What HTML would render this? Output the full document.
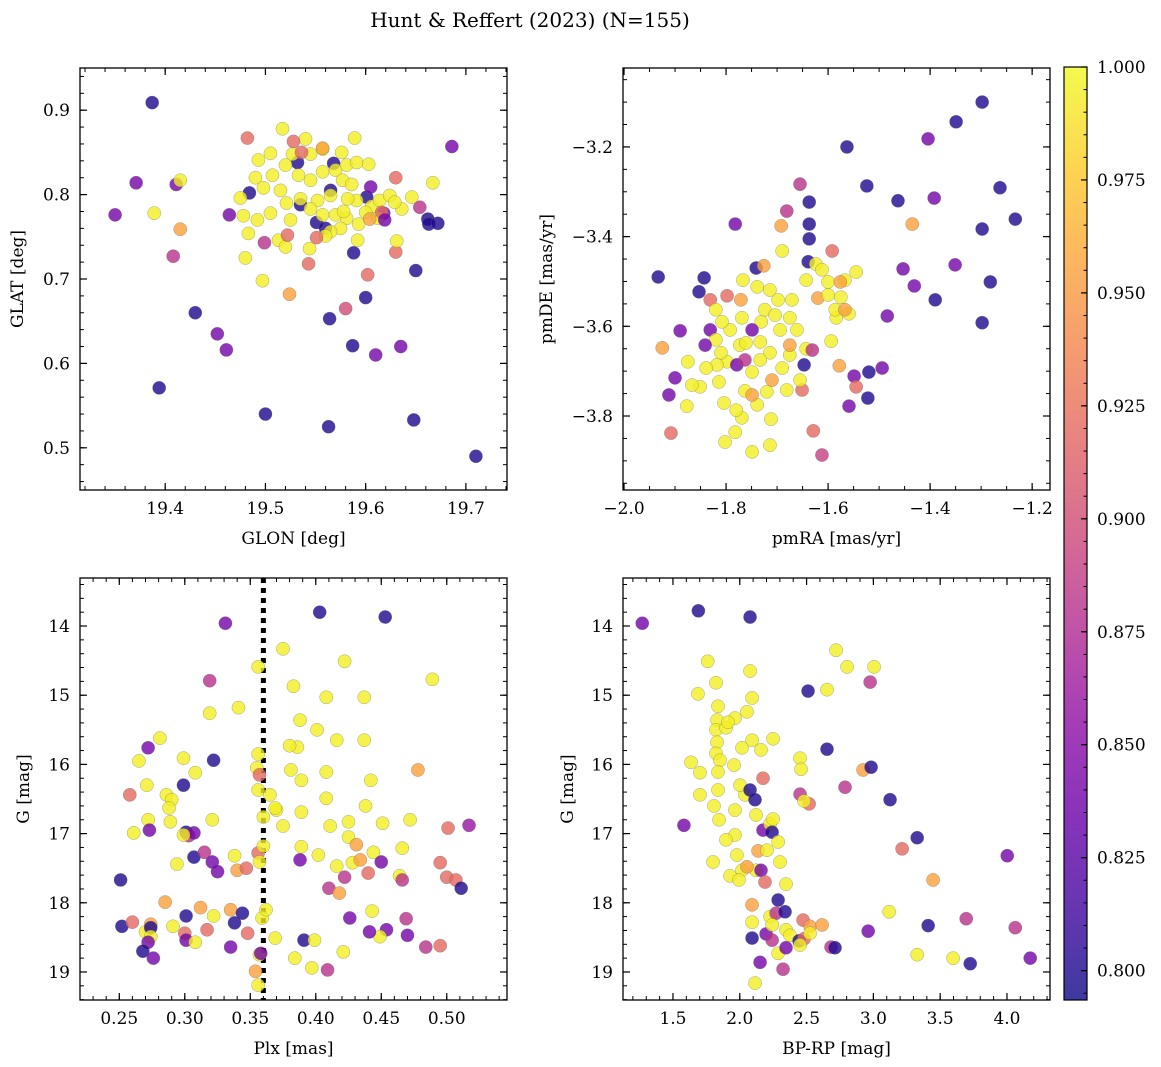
<!DOCTYPE html>
<html><head><meta charset="utf-8"><style>
body{margin:0;background:#fff}
svg{display:block;font-family:"DejaVu Serif","Liberation Serif",serif}
</style></head><body>
<svg id="fig" width="1161" height="1067" viewBox="0 0 1161 1067">
<text x="530" y="27" font-size="20" text-anchor="middle">Hunt &amp; Reffert (2023) (N=155)</text>
</svg>
<script>
// ---- Panel 1: GLON vs GLAT ----
const tlGlon=[19.387,19.371,19.350,19.411,19.415,19.389,19.415,19.408,19.430,19.452,19.461,19.394,19.464,19.482,19.484,19.500,19.497,19.524,19.563,19.564,19.587,19.588,19.580,19.600,19.602,19.610,19.618,19.630,19.631,19.635,19.654,19.630,19.650,19.648,19.710,19.662,19.667,19.686,19.663,19.672,19.601,19.565,19.568,19.532,19.535,19.551,19.560,19.605,
19.517,19.540,19.557,19.576,19.589,19.545,19.505,19.493,19.490,19.498,19.507,19.520,19.533,19.545,19.557,19.570,19.581,19.591,19.603,19.577,19.565,19.552,19.535,19.521,19.505,19.492,19.478,19.483,19.513,19.525,19.545,19.557,19.570,19.581,19.591,19.606,19.614,19.624,19.636,19.612,19.600,19.593,19.575,19.565,19.544,19.520,19.560,19.586,19.582,19.592,19.629,19.646,19.515,19.527,19.578,19.475,19.480,
19.528,19.557,19.536,19.543,19.551,19.522,19.616,19.604,19.499,19.619];
const tlGlat=[0.909,0.814,0.776,0.812,0.817,0.778,0.759,0.727,0.660,0.635,0.616,0.571,0.776,0.867,0.802,0.540,0.698,0.682,0.525,0.653,0.621,0.731,0.665,0.678,0.705,0.610,0.778,0.732,0.745,0.620,0.785,0.820,0.710,0.533,0.490,0.771,0.814,0.857,0.765,0.766,0.797,0.805,0.837,0.838,0.788,0.767,0.760,0.809,
0.878,0.866,0.854,0.850,0.867,0.848,0.849,0.841,0.820,0.808,0.823,0.835,0.823,0.817,0.827,0.829,0.835,0.838,0.836,0.817,0.799,0.793,0.795,0.790,0.778,0.770,0.775,0.754,0.746,0.770,0.783,0.776,0.776,0.772,0.793,0.786,0.793,0.799,0.783,0.772,0.779,0.765,0.760,0.756,0.736,0.738,0.751,0.812,0.795,0.746,0.791,0.797,0.805,0.848,0.780,0.796,0.725,
0.863,0.855,0.850,0.718,0.749,0.752,0.779,0.771,0.743,0.770];
const tlProb=[0.80,0.84,0.84,0.84,0.995,0.995,0.955,0.88,0.80,0.84,0.84,0.80,0.84,0.92,0.80,0.80,0.995,0.955,0.80,0.80,0.80,0.80,0.90,0.80,0.92,0.84,0.84,0.92,0.995,0.84,0.88,0.92,0.80,0.80,0.80,0.80,0.995,0.84,0.80,0.80,0.80,0.80,0.80,0.80,0.80,0.80,0.80,0.84,
0.995,0.995,0.995,0.995,0.995,0.995,0.995,0.995,0.995,0.995,0.995,0.995,0.995,0.995,0.995,0.995,0.995,0.995,0.995,0.995,0.995,0.995,0.995,0.995,0.995,0.995,0.995,0.995,0.995,0.995,0.995,0.995,0.995,0.995,0.995,0.995,0.995,0.995,0.995,0.995,0.995,0.995,0.995,0.995,0.995,0.995,0.995,0.995,0.995,0.995,0.995,0.995,0.995,0.995,0.995,0.995,0.995,
0.92,0.955,0.92,0.92,0.92,0.92,0.92,0.955,0.88,0.84];

// ---- Panel 2: pmRA vs pmDE ----
const trPmra=[-1.298,-1.349,-1.404,-1.563,-1.392,-1.463,-1.524,-1.263,-1.233,-1.298,-1.435,-1.655,-1.681,-1.637,-1.637,-1.637,-1.692,-1.782,-1.639,-1.592,-1.453,-1.431,-1.351,-1.282,-1.390,-1.298,-1.484,-1.933,-1.843,-1.853,-1.890,-1.831,-1.925,-1.900,-1.912,-1.908,-1.877,-1.831,-1.820,-1.798,-1.771,-1.767,-1.741,-1.726,-1.690,-1.739,-1.714,-1.698,-1.671,-1.620,-1.643,-1.624,-1.612,-1.600,-1.545,-1.567,-1.576,-1.575,-1.559,-1.584,-1.594,-1.578,-1.549,-1.520,-1.494,-1.545,-1.559,-1.522,-1.629,-1.612,-1.712,-1.739,-1.763,-1.749,-1.773,-1.798,-1.818,-1.839,-1.851,-1.867,-1.804,-1.769,-1.782,-1.749,-1.802,-1.714,-1.720,-1.681,-1.651,-1.647,-1.655,-1.690,-1.675,-1.643,-1.661,-1.694,-1.731,-1.769,-1.792,-1.820,-1.810,-1.761,-1.733,-1.714,-1.749,-1.724,-1.704,-1.675,-1.733,-1.779,-1.763,-1.710,-1.675,-1.749,-1.631,-1.780,-1.875,-1.814,-1.841,-1.808,-1.586,-1.567,-1.600];
const trPmde=[-3.100,-3.144,-3.182,-3.200,-3.314,-3.320,-3.287,-3.291,-3.361,-3.383,-3.372,-3.283,-3.343,-3.323,-3.372,-3.405,-3.376,-3.372,-3.456,-3.432,-3.472,-3.510,-3.463,-3.501,-3.541,-3.592,-3.577,-3.490,-3.492,-3.523,-3.610,-3.541,-3.648,-3.715,-3.753,-3.838,-3.778,-3.608,-3.563,-3.532,-3.541,-3.497,-3.470,-3.465,-3.432,-3.512,-3.519,-3.541,-3.541,-3.537,-3.497,-3.461,-3.474,-3.501,-3.479,-3.497,-3.501,-3.535,-3.572,-3.581,-3.633,-3.688,-3.711,-3.702,-3.693,-3.735,-3.778,-3.760,-3.833,-3.887,-3.807,-3.775,-3.744,-3.702,-3.642,-3.679,-3.686,-3.693,-3.735,-3.731,-3.771,-3.804,-3.836,-3.880,-3.858,-3.865,-3.746,-3.742,-3.742,-3.686,-3.720,-3.693,-3.664,-3.650,-3.608,-3.608,-3.590,-3.581,-3.608,-3.630,-3.659,-3.637,-3.635,-3.659,-3.608,-3.563,-3.575,-3.581,-3.675,-3.686,-3.675,-3.720,-3.642,-3.753,-3.653,-3.787,-3.679,-3.724,-3.642,-3.590,-3.563,-3.563,-3.530];
const trProb=[0.80,0.80,0.84,0.80,0.84,0.80,0.80,0.80,0.80,0.80,0.955,0.88,0.88,0.80,0.80,0.80,0.955,0.84,0.80,0.92,0.84,0.84,0.84,0.80,0.80,0.80,0.84,0.80,0.80,0.80,0.84,0.92,0.955,0.84,0.84,0.92,0.995,0.84,0.995,0.92,0.955,0.995,0.80,0.955,0.995,0.995,0.995,0.995,0.995,0.955,0.995,0.995,0.995,0.995,0.995,0.995,0.955,0.995,0.995,0.995,0.995,0.955,0.84,0.80,0.84,0.92,0.84,0.80,0.92,0.89,0.995,0.995,0.995,0.995,0.995,0.995,0.995,0.995,0.995,0.995,0.995,0.995,0.995,0.995,0.995,0.995,0.995,0.995,0.92,0.80,0.995,0.995,0.995,0.995,0.995,0.995,0.995,0.995,0.995,0.995,0.995,0.995,0.995,0.995,0.84,0.995,0.995,0.995,0.995,0.84,0.88,0.955,0.955,0.955,0.88,0.995,0.995,0.995,0.84,0.995,0.995,0.955,0.995];

// ---- Panel 3: Plx vs G ----
const blPlx=[0.331,0.403,0.453,0.319,0.319,0.341,0.375,0.356,0.383,0.408,0.422,0.437,0.489,0.388,0.401,0.386,0.381,0.389,0.356,0.355,0.380,0.322,0.299,0.299,0.308,0.281,0.272,0.265,0.258,0.272,0.261,0.273,0.286,0.290,0.271,0.288,0.289,0.301,0.303,0.307,0.299,0.294,0.307,0.315,0.321,0.321,0.325,0.338,0.340,0.347,0.356,0.357,0.360,0.360,0.357,0.356,0.365,0.370,0.375,0.369,0.389,0.389,0.388,0.411,0.408,0.402,0.408,0.416,0.425,0.437,0.438,0.442,0.425,0.416,0.410,0.418,0.428,0.422,0.434,0.444,0.440,0.450,0.426,0.431,0.451,0.466,0.472,0.478,0.501,0.500,0.507,0.517,0.464,0.466,0.495,0.511,0.454,0.469,0.484,0.470,0.495,0.251,0.252,0.260,0.270,0.274,0.274,0.274,0.272,0.268,0.276,0.285,0.291,0.300,0.301,0.301,0.308,0.312,0.317,0.322,0.338,0.335,0.335,0.348,0.344,0.354,0.356,0.357,0.359,0.358,0.362,0.369,0.384,0.391,0.397,0.399,0.409,0.421,0.443,0.449,0.441];
const blG=[13.96,13.80,13.87,14.79,15.26,15.18,14.33,14.59,14.87,15.03,14.51,15.03,14.77,15.36,15.50,15.75,16.08,16.23,15.85,16.05,15.73,15.94,16.30,15.91,16.12,15.62,15.76,15.95,16.44,16.80,16.99,16.95,16.44,16.51,16.30,16.63,16.83,16.98,17.03,16.99,17.02,17.44,17.34,17.27,16.80,17.41,17.55,17.32,17.53,17.50,17.28,17.41,17.18,16.76,16.15,16.37,16.44,16.66,16.89,16.63,16.69,17.19,17.38,16.89,16.49,17.31,16.11,15.65,16.83,15.65,16.60,16.23,17.05,17.47,17.79,17.86,17.42,17.63,17.38,17.27,17.57,17.41,18.22,17.16,16.85,17.21,16.80,16.08,16.92,17.63,17.67,16.88,17.61,17.67,17.42,17.79,18.39,18.23,18.64,18.47,18.62,17.67,18.34,18.28,18.42,18.31,18.36,18.49,18.57,18.70,18.80,17.99,18.34,18.44,18.19,18.54,18.57,18.07,18.39,18.19,18.29,18.64,18.10,18.44,18.15,18.99,19.19,18.75,18.22,18.73,18.10,18.51,18.80,18.54,18.94,18.54,18.97,18.71,18.12,18.49,18.42];
const blProb=[0.84,0.80,0.80,0.88,0.995,0.995,0.995,0.995,0.995,0.995,0.995,0.995,0.995,0.995,0.995,0.995,0.995,0.995,0.995,0.995,0.995,0.80,0.80,0.995,0.995,0.995,0.84,0.995,0.92,0.995,0.995,0.84,0.995,0.995,0.995,0.995,0.995,0.80,0.88,0.84,0.995,0.995,0.80,0.88,0.995,0.84,0.84,0.995,0.955,0.92,0.92,0.995,0.995,0.995,0.92,0.995,0.995,0.995,0.995,0.995,0.995,0.995,0.84,0.995,0.995,0.995,0.995,0.995,0.995,0.995,0.995,0.995,0.995,0.995,0.88,0.955,0.995,0.88,0.955,0.995,0.92,0.84,0.84,0.955,0.995,0.995,0.995,0.955,0.92,0.92,0.92,0.86,0.995,0.88,0.92,0.80,0.84,0.88,0.88,0.84,0.92,0.80,0.80,0.92,0.995,0.955,0.80,0.995,0.84,0.80,0.84,0.955,0.995,0.92,0.80,0.84,0.995,0.955,0.92,0.995,0.80,0.84,0.955,0.92,0.80,0.955,0.995,0.995,0.995,0.84,0.995,0.995,0.995,0.80,0.995,0.995,0.88,0.995,0.995,0.995,0.84];

// ---- Panel 4: BP-RP vs G ----
const brCol=[1.270,1.690,2.077,1.760,2.511,2.721,2.803,3.005,2.976,2.653,1.635,1.702,1.702,1.582,1.687,1.822,1.837,1.830,1.822,1.897,1.830,1.822,1.852,1.837,1.837,1.807,1.845,1.964,1.800,1.897,1.979,2.017,1.927,1.964,2.039,2.002,1.957,2.017,2.092,1.964,2.054,2.092,2.077,1.912,2.159,2.174,2.077,2.114,2.122,2.174,2.227,2.242,2.137,2.122,2.054,1.994,2.159,2.189,2.092,2.092,2.092,2.197,2.242,2.227,2.287,2.272,2.242,2.346,2.339,2.474,2.376,2.444,2.481,2.451,2.526,2.616,2.683,2.713,2.324,2.287,2.114,2.346,2.249,2.451,2.459,2.451,2.653,2.788,2.923,2.983,3.125,3.328,3.215,3.447,3.118,2.961,3.328,3.597,3.725,3.410,3.695,4.002,4.062,4.174,2.519,2.481,2.249,2.301,2.287,2.204,2.526,2.346,2.152];
const brG=[13.96,13.78,13.87,14.51,14.94,14.35,14.59,14.59,14.81,14.92,15.97,16.12,16.44,16.88,14.98,14.82,15.16,15.36,15.50,15.47,15.68,15.84,15.94,16.11,16.37,16.60,16.80,17.02,17.41,17.09,17.31,17.53,17.61,16.66,16.44,16.30,16.01,15.76,15.65,15.33,15.24,15.04,14.65,15.39,15.79,16.20,16.37,16.51,16.73,16.95,16.86,16.98,17.25,17.53,17.48,17.67,17.53,17.70,18.03,18.28,18.51,18.45,18.54,18.20,17.96,18.15,18.32,18.39,18.13,18.25,18.47,18.55,18.52,18.61,18.34,18.32,18.64,18.65,18.96,18.73,19.16,17.73,15.63,15.91,16.07,16.43,15.78,16.33,16.08,16.04,16.51,17.06,17.22,17.67,18.13,18.41,18.75,18.80,18.88,18.33,18.23,17.32,18.36,18.80,16.57,16.53,16.79,17.41,17.12,17.24,18.44,18.65,18.86];
const brProb=[0.84,0.80,0.80,0.995,0.80,0.995,0.995,0.995,0.88,0.995,0.995,0.995,0.995,0.84,0.995,0.995,0.995,0.995,0.995,0.995,0.995,0.995,0.995,0.995,0.995,0.995,0.995,0.995,0.995,0.995,0.995,0.995,0.995,0.995,0.995,0.995,0.995,0.995,0.995,0.995,0.995,0.995,0.995,0.995,0.995,0.92,0.80,0.80,0.995,0.84,0.995,0.80,0.955,0.995,0.955,0.995,0.84,0.92,0.955,0.995,0.80,0.84,0.88,0.995,0.80,0.88,0.995,0.995,0.80,0.92,0.995,0.80,0.92,0.995,0.955,0.955,0.88,0.80,0.88,0.995,0.995,0.995,0.995,0.995,0.995,0.88,0.80,0.88,0.955,0.80,0.80,0.80,0.92,0.955,0.995,0.84,0.995,0.995,0.80,0.80,0.88,0.84,0.88,0.84,0.92,0.995,0.995,0.995,0.995,0.995,0.995,0.84,0.84];

// colorbar ticks
const cbTicks=[0.800,0.825,0.850,0.875,0.900,0.925,0.950,0.975,1.000];
const VMIN=0.7935, VMAX=1.0;

const NS='http://www.w3.org/2000/svg';
const svg=document.getElementById('fig');
function el(tag,attrs,parent){const e=document.createElementNS(NS,tag);for(const k in attrs)e.setAttribute(k,attrs[k]);(parent||svg).appendChild(e);return e;}
const PL=[[0,'#0d0887'],[0.1,'#41049d'],[0.2,'#6a00a8'],[0.3,'#8f0da4'],[0.4,'#b12a90'],[0.5,'#cc4778'],[0.6,'#e16462'],[0.7,'#f2844b'],[0.8,'#fca636'],[0.9,'#fcce25'],[1,'#f0f921']];
function hx(h){return [1,3,5].map(i=>parseInt(h.substr(i,2),16));}
function plasma(t){t=Math.max(0,Math.min(1,t));for(let i=0;i<PL.length-1;i++){if(t<=PL[i+1][0]){const f=(t-PL[i][0])/(PL[i+1][0]-PL[i][0]);const a=hx(PL[i][1]),b=hx(PL[i+1][1]);return 'rgb('+a.map((v,j)=>Math.round(v+(b[j]-v)*f)).join(',')+')';}}return PL[10][1];}
function fmt(v,d){return (v<0?'\u2212':'')+Math.abs(v).toFixed(d);}

function panel(c){
  const g=el('g',{});
  
  
  const sx=v=>c.x0+(v-c.xmin)/(c.xmax-c.xmin)*(c.x1-c.x0);
  const sy=c.inv?(v=>c.y0+(v-c.ymin)/(c.ymax-c.ymin)*(c.y1-c.y0)):(v=>c.y1-(v-c.ymin)/(c.ymax-c.ymin)*(c.y1-c.y0));
  if(c.vline!==undefined){
    const l=el('line',{x1:sx(c.vline),x2:sx(c.vline),y1:c.y0,y2:c.y1,stroke:'#000','stroke-width':5,'stroke-dasharray':'5,5'},g);
    
    
  }
  for(let i=0;i<c.xs.length;i++){
    const p=el('circle',{cx:sx(c.xs[i]),cy:sy(c.ys[i]),r:6.6,fill:plasma((c.ps[i]-VMIN)/(VMAX-VMIN)),'fill-opacity':0.8,stroke:'#666','stroke-width':0.4,'stroke-opacity':0.7},g);
    
    
  }
  const fr=el('rect',{x:c.x0,y:c.y0,width:c.x1-c.x0,height:c.y1-c.y0,fill:'none',stroke:'#000','stroke-width':1.3},g);
  
  
  const eps=1e-9;
  for(let v=Math.ceil(c.xmin/c.xminor-eps)*c.xminor;v<=c.xmax+eps;v+=c.xminor){const X=sx(v);el('line',{x1:X,x2:X,y1:c.y1,y2:c.y1-4,stroke:'#000','stroke-width':1},g);el('line',{x1:X,x2:X,y1:c.y0,y2:c.y0+4,stroke:'#000','stroke-width':1},g);}
  for(let v=Math.ceil(c.ymin/c.yminor-eps)*c.yminor;v<=c.ymax+eps;v+=c.yminor){const Y=sy(v);el('line',{x1:c.x0,x2:c.x0+4,y1:Y,y2:Y,stroke:'#000','stroke-width':1},g);el('line',{x1:c.x1,x2:c.x1-4,y1:Y,y2:Y,stroke:'#000','stroke-width':1},g);}
  c.xt.forEach(v=>{const X=sx(v);el('line',{x1:X,x2:X,y1:c.y1,y2:c.y1-7,stroke:'#000','stroke-width':1.2},g);el('line',{x1:X,x2:X,y1:c.y0,y2:c.y0+7,stroke:'#000','stroke-width':1.2},g);
    const t=el('text',{x:X,y:c.y1+24,'font-size':17,'text-anchor':'middle'},g);t.textContent=fmt(v,c.xd);
    
    });
  c.yt.forEach(v=>{const Y=sy(v);el('line',{x1:c.x0,x2:c.x0+7,y1:Y,y2:Y,stroke:'#000','stroke-width':1.2},g);el('line',{x1:c.x1,x2:c.x1-7,y1:Y,y2:Y,stroke:'#000','stroke-width':1.2},g);
    const t=el('text',{x:c.x0-10,y:Y+6,'font-size':17,'text-anchor':'end'},g);t.textContent=fmt(v,c.yd);
    
    });
  const xl=el('text',{x:(c.x0+c.x1)/2,y:c.y1+54,'font-size':17,'text-anchor':'middle'},g);xl.textContent=c.xlab;
  
  
  const yc=(c.y0+c.y1)/2;
  const yl=el('text',{x:c.ylx,y:yc,'font-size':17,'text-anchor':'middle',transform:'rotate(-90 '+c.ylx+' '+yc+')'},g);yl.textContent=c.ylab;
  
  
}

panel({name:'glon-glat-panel',x0:80,x1:507,y0:68,y1:490,xmin:19.315,xmax:19.741,ymin:0.45,ymax:0.95,xs:tlGlon,ys:tlGlat,ps:tlProb,
  xt:[19.4,19.5,19.6,19.7],yt:[0.5,0.6,0.7,0.8,0.9],xd:1,yd:1,xminor:0.02,yminor:0.02,xlab:'GLON [deg]',ylab:'GLAT [deg]',ylx:23});
panel({name:'proper-motion-panel',x0:623,x1:1050,y0:68,y1:490,xmin:-2.002,xmax:-1.165,ymin:-3.965,ymax:-3.024,xs:trPmra,ys:trPmde,ps:trProb,
  xt:[-2.0,-1.8,-1.6,-1.4,-1.2],yt:[-3.8,-3.6,-3.4,-3.2],xd:1,yd:1,xminor:0.05,yminor:0.05,xlab:'pmRA [mas/yr]',ylab:'pmDE [mas/yr]',ylx:552});
panel({name:'parallax-magnitude-panel',x0:80,x1:507,y0:578,y1:1000,xmin:0.220,xmax:0.546,ymin:13.306,ymax:19.405,inv:true,xs:blPlx,ys:blG,ps:blProb,vline:0.36,
  xt:[0.25,0.30,0.35,0.40,0.45,0.50],yt:[14,15,16,17,18,19],xd:2,yd:0,xminor:0.01,yminor:0.2,xlab:'Plx [mas]',ylab:'G [mag]',ylx:29});
panel({name:'color-magnitude-panel',x0:623,x1:1050,y0:578,y1:1000,xmin:1.126,xmax:4.322,ymin:13.306,ymax:19.405,inv:true,xs:brCol,ys:brG,ps:brProb,
  xt:[1.5,2.0,2.5,3.0,3.5,4.0],yt:[14,15,16,17,18,19],xd:1,yd:0,xminor:0.1,yminor:0.2,xlab:'BP-RP [mag]',ylab:'G [mag]',ylx:573});

// colorbar
(function(){
  const g=el('g',{});
  
  
  const defs=el('defs',{},g);
  const lg=el('linearGradient',{id:'cbg',x1:0,y1:1,x2:0,y2:0},defs);
  PL.forEach(s=>el('stop',{offset:s[0],'stop-color':s[1]},lg));
  const x0=1064,x1=1087,y0=67,y1=1000;
  el('rect',{x:x0,y:y0,width:x1-x0,height:y1-y0,fill:'url(#cbg)','fill-opacity':0.8},g);
  el('rect',{x:x0,y:y0,width:x1-x0,height:y1-y0,fill:'none',stroke:'#000','stroke-width':1.2},g);
  const sy=v=>y1-(v-VMIN)/(VMAX-VMIN)*(y1-y0);
  for(let v=0.795;v<=1.0001;v+=0.005){const Y=sy(v);el('line',{x1:x1,x2:x1-3.5,y1:Y,y2:Y,stroke:'#000','stroke-width':1},g);}
  cbTicks.forEach(v=>{const Y=sy(v);el('line',{x1:x1,x2:x1-6,y1:Y,y2:Y,stroke:'#000','stroke-width':1.2},g);
    const t=el('text',{x:x1+10,y:Y+6,'font-size':17},g);t.textContent=v.toFixed(3);
    
    });
})();
</script>
</body></html>
